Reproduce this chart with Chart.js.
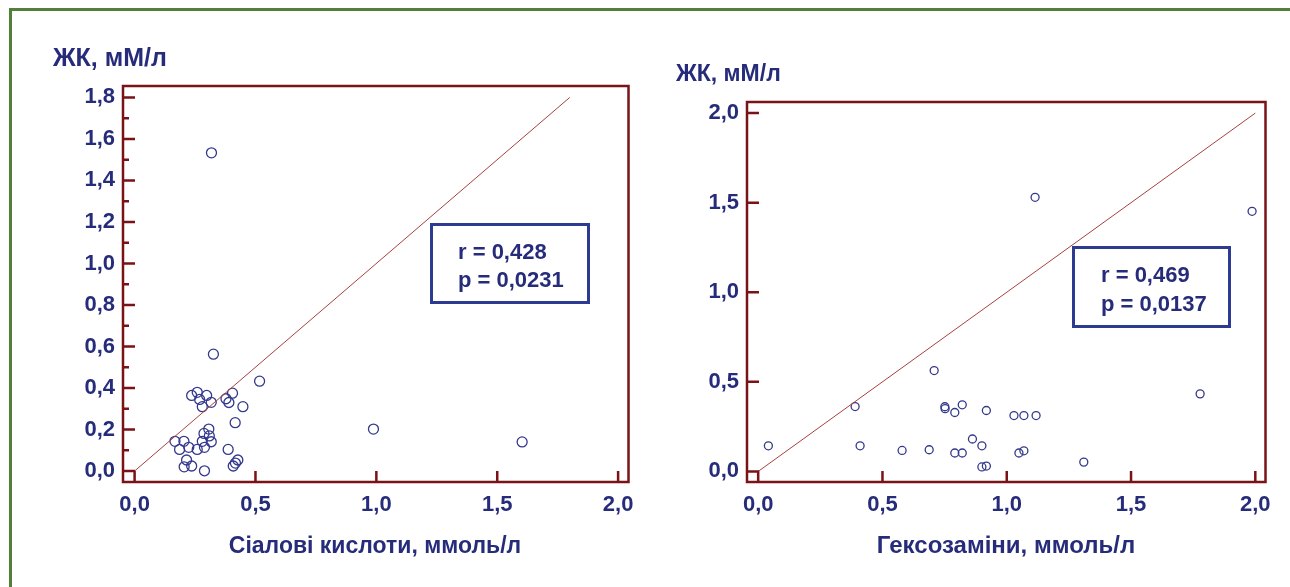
<!DOCTYPE html>
<html>
<head>
<meta charset="utf-8">
<script src="https://cdn.jsdelivr.net/npm/chart.js@4"></script>
<style>
  body { margin: 0; background: #fff; width: 1290px; height: 587px; overflow: hidden; position: relative;
         font-family: "Liberation Sans", Arial, sans-serif; color: #262c7a; }
  .frame { position: absolute; left: 9px; top: 8px; width: 1400px; height: 700px;
           border-top: 3px solid #52803a; border-left: 3px solid #52803a; }
  canvas { position: absolute; top: 0; }
  .lbl { position: absolute; font-weight: bold; font-size: 23px; white-space: nowrap; line-height: 28px; }
  .box { position: absolute; border: 3px solid #2d3a92; box-sizing: border-box; }
  .box div { position: absolute; font-weight: bold; font-size: 22px; line-height: 26px; white-space: nowrap; }
</style>
</head>
<body>
<div class="frame"></div>
<canvas id="left" width="645" height="587" style="left:0"></canvas>
<canvas id="right" width="645" height="587" style="left:645px"></canvas>

<div class="lbl" style="left:53px; top:43px; font-size:25px">ЖК, мМ/л</div>
<div class="lbl" style="left:676px; top:59px">ЖК, мМ/л</div>
<div class="lbl" style="left:375px; top:531px; transform:translateX(-50%)">Сіалові кислоти, ммоль/л</div>
<div class="lbl" style="left:1006px; top:531px; transform:translateX(-50%); font-size:24px">Гексозаміни, ммоль/л</div>

<div class="box" style="left:430px; top:223px; width:160px; height:81px">
  <div style="left:25px; top:13px">r = 0,428</div>
  <div style="left:25px; top:41px">p = 0,0231</div>
</div>
<div class="box" style="left:1072px; top:246px; width:159px; height:82px">
  <div style="left:26px; top:13px">r = 0,469</div>
  <div style="left:26px; top:42px">p = 0,0137</div>
</div>

<script>
// sialic acids vs ЖК
let sialX = [0.318, 0.326, 0.517, 0.405, 0.378, 0.390, 0.448, 0.416, 0.988, 1.603,
             0.387, 0.427, 0.417, 0.408, 0.289, 0.215, 0.205, 0.236, 0.167, 0.204,
             0.186, 0.224, 0.259, 0.280, 0.287, 0.307, 0.309, 0.317, 0.289, 0.236,
             0.259, 0.298, 0.317, 0.280, 0.269]
let sialY = [1.533, 0.563, 0.433, 0.375, 0.348, 0.330, 0.310, 0.233, 0.202, 0.140,
             0.104, 0.053, 0.038, 0.024, 0.001, 0.053, 0.020, 0.024, 0.143, 0.143,
             0.104, 0.114, 0.104, 0.143, 0.181, 0.202, 0.169, 0.141, 0.114, 0.364,
             0.379, 0.364, 0.331, 0.310, 0.345]

// hexosamines vs ЖК
let hexX = [0.041, 0.390, 0.410, 0.579, 0.688, 0.708, 0.751, 0.752, 0.791, 0.821,
            0.918, 0.862, 0.900, 0.791, 0.821, 0.900, 0.918, 1.029, 1.069, 1.118,
            1.049, 1.069, 1.310, 1.114, 1.778, 1.987]
let hexY = [0.143, 0.362, 0.143, 0.117, 0.121, 0.563, 0.361, 0.350, 0.329, 0.372,
            0.340, 0.181, 0.143, 0.103, 0.103, 0.025, 0.030, 0.312, 0.312, 0.312,
            0.103, 0.115, 0.052, 1.530, 0.433, 1.452]

// diagonal reference lines
let lineLeft = [0, 1.8]
let lineRight = [0, 2.0]

// tick values
let leftXTicks = [0, 0.5, 1, 1.5, 2]
let leftYTicks = [0, 0.2, 0.4, 0.6, 0.8, 1.0, 1.2, 1.4, 1.6, 1.8]
let leftYMinor = [0.1, 0.3, 0.5, 0.7, 0.9, 1.1, 1.3, 1.5, 1.7]
let rightXTicks = [0, 0.5, 1, 1.5, 2]
let rightYTicks = [0, 0.5, 1, 1.5, 2]

const navy = '#262c7a'
const wine = '#7a1317'

Chart.defaults.font.family = '"Liberation Sans", Arial, sans-serif'
Chart.defaults.font.weight = 'bold'
Chart.defaults.font.size = 22
Chart.defaults.color = navy

function fmt(v) {
    return Number(v).toFixed(1).replace('.', ',')
}

function toPoints(xs, ys) {
    return xs.map((x, i) => ({x: x, y: ys[i]}))
}

// frame with inward tick marks
const framePlugin = {
    id: 'frame',
    afterDatasetsDraw(chart, args, opts) {
        const {ctx, chartArea: a, scales} = chart
        ctx.save()
        ctx.strokeStyle = wine
        ctx.lineWidth = 2.5
        ctx.strokeRect(a.left, a.top, a.width, a.height)
        ctx.beginPath()
        opts.yMajor.forEach(v => {
            let y = scales.y.getPixelForValue(v)
            ctx.moveTo(a.left, y); ctx.lineTo(a.left + 12, y)
        })
        opts.yMinor.forEach(v => {
            let y = scales.y.getPixelForValue(v)
            ctx.moveTo(a.left, y); ctx.lineTo(a.left + 6, y)
        })
        opts.xMajor.forEach(v => {
            let x = scales.x.getPixelForValue(v)
            ctx.moveTo(x, a.bottom); ctx.lineTo(x, a.bottom - 11)
        })
        ctx.stroke()
        ctx.restore()
    }
}

function makeChart(id, cfg) {
    return new Chart(document.getElementById(id), {
        type: 'scatter',
        data: {
            datasets: [{
                type: 'line',
                data: toPoints(cfg.line, cfg.line),
                borderColor: '#a8403f',
                borderWidth: 1,
                pointRadius: 0,
                fill: false
            }, {
                data: toPoints(cfg.xs, cfg.ys),
                pointRadius: cfg.radius,
                pointBorderWidth: 1.3,
                borderColor: '#34398c',
                backgroundColor: 'rgba(0,0,0,0)'
            }]
        },
        options: {
            responsive: false,
            animation: false,
            layout: { padding: { left: 0, top: cfg.top, right: cfg.right, bottom: 0 } },
            plugins: {
                legend: { display: false },
                tooltip: { enabled: false },
                frame: { xMajor: cfg.xTicks, yMajor: cfg.yTicks, yMinor: cfg.yMinor }
            },
            scales: {
                x: {
                    type: 'linear',
                    min: cfg.xMin, max: cfg.xMax,
                    grid: { display: false, drawTicks: false },
                    border: { display: false },
                    ticks: { padding: 10, callback: fmt, maxRotation: 0 },
                    afterBuildTicks: s => { s.ticks = cfg.xTicks.map(v => ({value: v})) },
                    afterFit: s => { s.height = 105 }
                },
                y: {
                    type: 'linear',
                    min: cfg.yMin, max: cfg.yMax,
                    grid: { display: false, drawTicks: false },
                    border: { display: false },
                    ticks: { padding: 8, callback: fmt },
                    afterBuildTicks: s => { s.ticks = cfg.yTicks.map(v => ({value: v})) },
                    afterFit: s => { s.width = cfg.yWidth }
                }
            }
        },
        plugins: [framePlugin]
    })
}

makeChart('left', {
    xs: sialX, ys: sialY, line: lineLeft, radius: 5,
    xTicks: leftXTicks, yTicks: leftYTicks, yMinor: leftYMinor,
    xMin: -0.048, xMax: 2.043, yMin: -0.053, yMax: 1.855,
    top: 86, right: 16.5, yWidth: 123
})

makeChart('right', {
    xs: hexX, ys: hexY, line: lineRight, radius: 4,
    xTicks: rightXTicks, yTicks: rightYTicks, yMinor: [],
    xMin: -0.045, xMax: 2.041, yMin: -0.059, yMax: 2.062,
    top: 102, right: 24.5, yWidth: 102
})
</script>
</body>
</html>
